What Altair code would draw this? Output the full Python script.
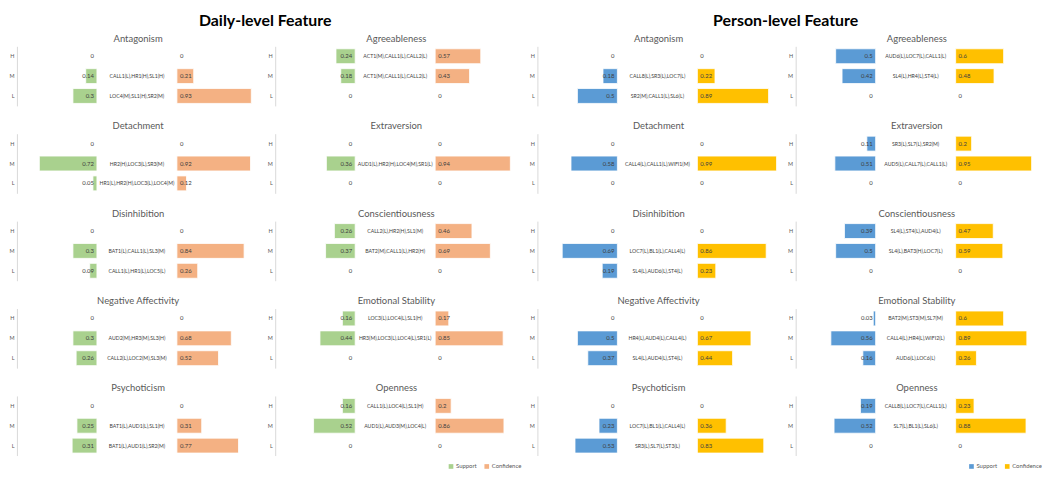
import altair as alt
import pandas as pd

FONT = "Lato"

levels = ["H", "M", "L"]

traits = ["Antagonism", "Detachment", "Disinhibition", "Negative Affectivity", "Psychoticism",
          "Agreeableness", "Extraversion", "Conscientiousness", "Emotional Stability", "Openness"]

daily_support = [[0, 0.14, 0.3], [0, 0.72, 0.05], [0, 0.3, 0.09], [0, 0.3, 0.26], [0, 0.25, 0.31],
                 [0.24, 0.18, 0], [0, 0.36, 0], [0.26, 0.37, 0], [0.16, 0.44, 0], [0.16, 0.52, 0]]
daily_confidence = [[0, 0.21, 0.93], [0, 0.92, 0.12], [0, 0.84, 0.26], [0, 0.68, 0.52], [0, 0.31, 0.77],
                    [0.57, 0.43, 0], [0, 0.94, 0], [0.46, 0.69, 0], [0.17, 0.85, 0], [0.2, 0.86, 0]]
daily_rules = [
    ["", "CALL1(L),HR1(H),SL1(H)", "LOC4(M),SL1(H),SR2(M)"],
    ["", "HR2(H),LOC3(L),SR3(M)", "HR1(L),HR2(H),LOC3(L),LOC4(M)"],
    ["", "BAT1(L),CALL1(L),SL3(M)", "CALL1(L),HR1(L),LOC5(L)"],
    ["", "AUD2(M),HR3(M),SL3(H)", "CALL2(L),LOC2(M),SL3(M)"],
    ["", "BAT1(L),AUD1(L),SL1(H)", "BAT1(L),AUD1(L),SR2(M)"],
    ["ACT1(M),CALL1(L),CALL2(L)", "ACT1(M),CALL1(L),CALL2(L)", ""],
    ["", "AUD1(L),HR2(H),LOC4(M),SR1(L)", ""],
    ["CALL2(L),HR2(H),SL1(M)", "BAT2(M),CALL1(L),HR2(H)", ""],
    ["LOC3(L),LOC4(L),SL1(H)", "HR3(M),LOC3(L),LOC4(L),SR1(L)", ""],
    ["CALL1(L),LOC4(L),SL1(H)", "AUD1(L),AUD3(M),LOC4(L)", ""],
]

person_support = [[0, 0.18, 0.5], [0, 0.58, 0], [0, 0.69, 0.19], [0, 0.5, 0.37], [0, 0.23, 0.53],
                  [0.5, 0.42, 0], [0.11, 0.51, 0], [0.39, 0.5, 0], [0.03, 0.56, 0.16], [0.19, 0.52, 0]]
person_confidence = [[0, 0.22, 0.89], [0, 0.99, 0], [0, 0.86, 0.23], [0, 0.67, 0.44], [0, 0.36, 0.83],
                     [0.6, 0.48, 0], [0.2, 0.95, 0], [0.47, 0.59, 0], [0.6, 0.89, 0.26], [0.23, 0.88, 0]]
person_rules = [
    ["", "CALL8(L),SR3(L),LOC7(L)", "SR2(M),CALL1(L),SL6(L)"],
    ["", "CALL4(L),CALL1(L),WIFI1(M)", ""],
    ["", "LOC7(L),BL1(L),CALL4(L)", "SL4(L),AUD6(L),ST4(L)"],
    ["", "HR4(L),AUD4(L),CALL4(L)", "SL4(L),AUD4(L),ST4(L)"],
    ["", "LOC7(L),BL1(L),CALL4(L)", "SR3(L),SL7(L),ST3(L)"],
    ["AUD6(L),LOC7(L),CALL1(L)", "SL4(L),HR4(L),ST4(L)", ""],
    ["SR3(L),SL7(L),SR2(M)", "AUD5(L),CALL7(L),CALL1(L)", ""],
    ["SL4(L),ST4(L),AUD4(L)", "SL4(L),BAT3(H),LOC7(L)", ""],
    ["BAT2(M),ST3(M),SL7(M)", "CALL4(L),HR4(L),WIFI2(L)", "AUD6(L),LOC6(L)"],
    ["CALL8(L),LOC7(L),CALL1(L)", "SL7(L),BL1(L),SL6(L)", ""],
]

daily_colors = ["#A9D18E", "#F4B183"]
person_colors = ["#5B9BD5", "#FFC000"]
measures = ["Support", "Confidence"]

PW, PH = 244, 60


def panel(trait, sup, conf, rules, colors, with_legend):
    df = pd.DataFrame({
        "level": levels, "Support": sup, "Confidence": conf, "rule": rules,
        "slabel": [f"{v:g}" for v in sup], "clabel": [f"{v:g}" for v in conf],
    })
    xs = alt.Scale(domain=[0, 3.03], nice=False, zero=False)
    y = alt.Y("level:N", sort=levels,
              scale=alt.Scale(domain=levels, paddingInner=0.25, paddingOuter=0.125),
              axis=alt.Axis(title=None, ticks=False, labelFontSize=5.5, labelColor="#595959",
                            labelPadding=3, domainColor="#D9D9D9", labelFont=FONT, grid=False))
    if with_legend:
        leg = alt.Legend(orient="none", legendX=174, legendY=PH + 8, direction="horizontal",
                         title=None, symbolType="square", symbolSize=22, symbolStrokeWidth=0,
                         labelFontSize=6, labelFont=FONT, labelColor="#595959",
                         columnPadding=6, labelOffset=2, padding=0)
    else:
        leg = None
    base = alt.Chart(df).transform_calculate(sx="1", mx="1.5", cx="2")
    bars = (alt.Chart(df)
            .transform_fold(measures, as_=["measure", "value"])
            .transform_filter("datum.value > 0")
            .transform_calculate(
                x0="datum.measure == 'Support' ? 1 - datum.value : 2",
                x1="datum.measure == 'Support' ? 1 : 2 + datum.value")
            .mark_bar(stroke="white", strokeWidth=0.8)
            .encode(x=alt.X("x0:Q", scale=xs, axis=None), x2="x1:Q", y=y,
                    color=alt.Color("measure:N", scale=alt.Scale(domain=measures, range=colors),
                                    legend=leg)))
    slab = base.mark_text(align="right", dx=-3, fontSize=6, font=FONT, color="#404040").encode(
        x=alt.X("sx:Q", scale=xs, axis=None), y=y, text="slabel:N")
    rlab = base.mark_text(align="center", fontSize=5.2, font=FONT, color="#404040").encode(
        x=alt.X("mx:Q", scale=xs, axis=None), y=y, text="rule:N")
    clab = base.mark_text(align="left", dx=3, fontSize=6, font=FONT, color="#404040").encode(
        x=alt.X("cx:Q", scale=xs, axis=None), y=y, text="clabel:N")
    return alt.layer(bars, slab, rlab, clab).properties(
        width=PW, height=PH,
        title=alt.TitleParams(trait, fontSize=9.5, font=FONT, color="#595959",
                              fontWeight="normal", offset=3))


def column(idx, support, confidence, rules, colors, legend_last):
    panels = [panel(traits[i], support[i], confidence[i], rules[i], colors,
                    legend_last and i == idx[-1]) for i in idx]
    return (alt.vconcat(*panels, spacing=15)
            .resolve_scale(color="independent").resolve_legend(color="independent"))


def group(title, support, confidence, rules, colors):
    c1 = column([0, 1, 2, 3, 4], support, confidence, rules, colors, False)
    c2 = column([5, 6, 7, 8, 9], support, confidence, rules, colors, True)
    return (alt.hconcat(c1, c2, spacing=7,
                        title=alt.TitleParams(title, fontSize=16, font=FONT, fontWeight="bold",
                                              color="#000000", anchor="middle", offset=5))
            .resolve_scale(color="independent").resolve_legend(color="independent"))


g1 = group("Daily-level Feature", daily_support, daily_confidence, daily_rules, daily_colors)
g2 = group("Person-level Feature", person_support, person_confidence, person_rules, person_colors)

chart = (alt.hconcat(g1, g2, spacing=7)
         .resolve_scale(color="independent").resolve_legend(color="independent")
         .properties(padding={"top": 3, "left": 0, "right": 0, "bottom": 0}, background="white")
         .configure_view(stroke=None))

chart.save("out.html", embed_options={"renderer": "svg", "actions": False})
